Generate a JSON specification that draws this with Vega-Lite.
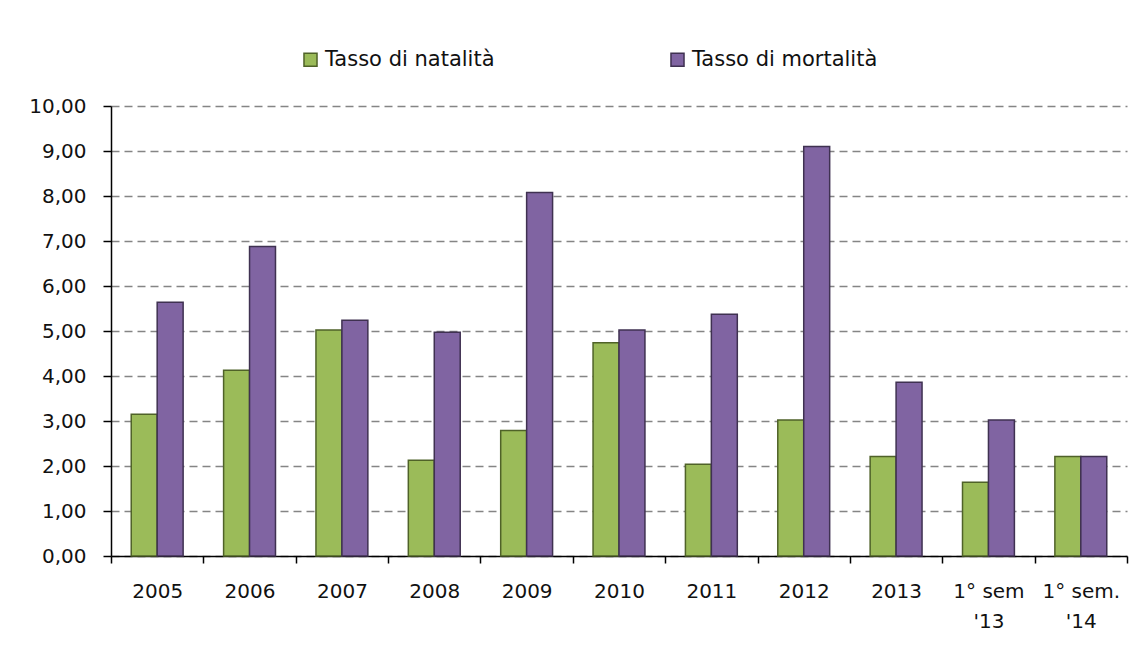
{
  "$schema": "https://vega.github.io/schema/vega-lite/v6.json",
  "autosize": {"type": "none"},
  "width": 1016,
  "height": 450,
  "padding": {"left": 111, "top": 106, "right": 18, "bottom": 92},
  "background": "white",
  "config": {
    "view": {"stroke": null},
    "font": "DejaVu Sans",
    "axis": {"labelFont": "DejaVu Sans", "labelFontSize": 20, "labelColor": "#111111", "titleFont": "DejaVu Sans"},
    "legend": {"labelFont": "DejaVu Sans"}
  },
  "data": {
    "values": [
      {"cat": "2005", "series": "Tasso di natalità", "value": 3.15},
      {"cat": "2005", "series": "Tasso di mortalità", "value": 5.64},
      {"cat": "2006", "series": "Tasso di natalità", "value": 4.13},
      {"cat": "2006", "series": "Tasso di mortalità", "value": 6.88},
      {"cat": "2007", "series": "Tasso di natalità", "value": 5.02},
      {"cat": "2007", "series": "Tasso di mortalità", "value": 5.24},
      {"cat": "2008", "series": "Tasso di natalità", "value": 2.13},
      {"cat": "2008", "series": "Tasso di mortalità", "value": 4.97},
      {"cat": "2009", "series": "Tasso di natalità", "value": 2.79},
      {"cat": "2009", "series": "Tasso di mortalità", "value": 8.08},
      {"cat": "2010", "series": "Tasso di natalità", "value": 4.74},
      {"cat": "2010", "series": "Tasso di mortalità", "value": 5.02},
      {"cat": "2011", "series": "Tasso di natalità", "value": 2.04},
      {"cat": "2011", "series": "Tasso di mortalità", "value": 5.37},
      {"cat": "2012", "series": "Tasso di natalità", "value": 3.02},
      {"cat": "2012", "series": "Tasso di mortalità", "value": 9.10},
      {"cat": "2013", "series": "Tasso di natalità", "value": 2.21},
      {"cat": "2013", "series": "Tasso di mortalità", "value": 3.86},
      {"cat": "1° sem|'13", "series": "Tasso di natalità", "value": 1.64},
      {"cat": "1° sem|'13", "series": "Tasso di mortalità", "value": 3.02},
      {"cat": "1° sem.|'14", "series": "Tasso di natalità", "value": 2.21},
      {"cat": "1° sem.|'14", "series": "Tasso di mortalità", "value": 2.21}
    ]
  },
  "mark": {"type": "bar", "strokeWidth": 1.5},
  "encoding": {
    "x": {
      "field": "cat",
      "type": "nominal",
      "sort": null,
      "scale": {"paddingInner": 0, "paddingOuter": 0},
      "axis": {
        "title": null,
        "labelAngle": 0,
        "labelExpr": "isValid(datum.value) ? split(datum.value, '|') : ''",
        "labelLineHeight": 30,
        "labelPadding": 18,
        "tickBand": "extent",
        "tickSize": 7,
        "tickColor": "#000000",
        "tickWidth": 1.5,
        "domainColor": "#000000",
        "domainWidth": 1.5,
        "grid": false
      }
    },
    "xOffset": {
      "field": "series",
      "type": "nominal",
      "sort": ["Tasso di natalità", "Tasso di mortalità"],
      "scale": {"paddingInner": 0, "paddingOuter": 0.78}
    },
    "y": {
      "field": "value",
      "type": "quantitative",
      "scale": {"domain": [0, 10], "nice": false},
      "axis": {
        "title": null,
        "values": [0, 1, 2, 3, 4, 5, 6, 7, 8, 9, 10],
        "labelExpr": "replace(format(datum.value, '.2f'), '.', ',')",
        "labelPadding": 17,
        "tickSize": 8,
        "tickColor": "#000000",
        "tickWidth": 1.5,
        "domainColor": "#000000",
        "domainWidth": 1.5,
        "grid": true,
        "gridColor": "#858585",
        "gridWidth": 1.5,
        "gridDash": [8, 5]
      }
    },
    "color": {
      "field": "series",
      "type": "nominal",
      "sort": ["Tasso di natalità", "Tasso di mortalità"],
      "scale": {"domain": ["Tasso di natalità", "Tasso di mortalità"], "range": ["#9bbb59", "#8064a2"]},
      "legend": {
        "title": null,
        "orient": "none",
        "direction": "horizontal",
        "legendX": 189,
        "legendY": -57,
        "symbolType": "square",
        "symbolSize": 170,
        "symbolStrokeWidth": 1.5,
        "labelFontSize": 21,
        "labelColor": "#111111",
        "labelOffset": 4,
        "labelLimit": 400,
        "columnPadding": 172
      }
    },
    "stroke": {
      "field": "series",
      "type": "nominal",
      "sort": ["Tasso di natalità", "Tasso di mortalità"],
      "scale": {"domain": ["Tasso di natalità", "Tasso di mortalità"], "range": ["#4f6228", "#3f3151"]},
      "legend": null
    }
  }
}
